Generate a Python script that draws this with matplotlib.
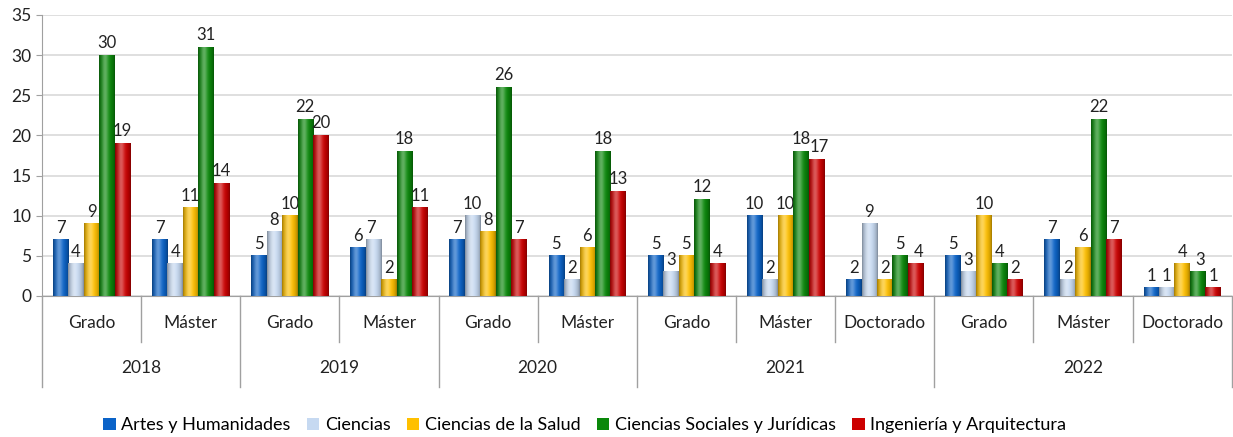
import matplotlib.pyplot as plt
import matplotlib.transforms as mtransforms
import numpy as np
from matplotlib.patches import Patch

plt.rcParams['font.family'] = ['Lato', 'DejaVu Sans']

# Datos
anios = ['2018', '2019', '2020', '2021', '2022']
niveles = ['Grado', 'Máster', 'Grado', 'Máster', 'Grado', 'Máster',
           'Grado', 'Máster', 'Doctorado', 'Grado', 'Máster', 'Doctorado']
grupos_por_anio = [2, 2, 2, 3, 3]

ramas = ['Artes y Humanidades', 'Ciencias', 'Ciencias de la Salud',
         'Ciencias Sociales y Jurídicas', 'Ingeniería y Arquitectura']
artes = [7, 7, 5, 6, 7, 5, 5, 10, 2, 5, 7, 1]
ciencias = [4, 4, 8, 7, 10, 2, 3, 2, 9, 3, 2, 1]
salud = [9, 11, 10, 2, 8, 6, 5, 10, 2, 10, 6, 4]
sociales = [30, 31, 22, 18, 26, 18, 12, 18, 5, 4, 22, 3]
ingenieria = [19, 14, 20, 11, 7, 13, 4, 17, 4, 2, 7, 1]
series = [artes, ciencias, salud, sociales, ingenieria]

colores = ['#0b63c8', '#c6d9f1', '#ffc000', '#0a880a', '#cc0000']

fig = plt.figure(figsize=(12.33, 4.37), dpi=100)
ax = fig.add_axes([0.034, 0.3227, 0.965, 0.643])

x = np.arange(len(niveles))
w = 0.156

def degradado(color):
    c = np.array(plt.matplotlib.colors.to_rgb(color))
    t = np.linspace(0, 1, 40)
    luz = np.exp(-((t - 0.38) / 0.22) ** 2)
    sombra = 0.62 + 0.38 * np.sin(np.pi * t) ** 0.6
    rgb = c[None, :] * sombra[:, None] + (1 - c[None, :]) * 0.35 * luz[:, None]
    return np.clip(rgb, 0, 1)[None, :, :]

for j, (vals, col) in enumerate(zip(series, colores)):
    pos = x + (j - 2) * w
    bars = ax.bar(pos, vals, w, color=col, zorder=2, linewidth=0)
    img = degradado(col)
    for i, (b, v) in enumerate(zip(bars, vals)):
        ax.imshow(img, extent=(b.get_x(), b.get_x() + w, 0, v), aspect='auto',
                  zorder=3, interpolation='bilinear')
        # separar etiquetas de barras vecinas casi iguales
        dx = 0
        if j > 0 and abs(series[j - 1][i] - v) <= 1 and v > series[j - 1][i]:
            dx = -2
        if j > 0 and abs(series[j - 1][i] - v) <= 1 and v < series[j - 1][i]:
            dx = 2
        ax.annotate(str(v), xy=(b.get_x() + w / 2, v), xytext=(dx, 3),
                    textcoords='offset points', ha='center', va='bottom',
                    fontsize=12, color='#222222')

ax.set_xlim(-0.5, len(niveles) - 0.5)
ax.set_ylim(0, 35)
ax.set_yticks(range(0, 36, 5))
ax.tick_params(axis='y', labelsize=12.5, colors='#222222', length=4, color='#a0a0a0')
ax.grid(axis='y', color='#d9d9d9', linewidth=1.2, zorder=0)
ax.set_axisbelow(True)
ax.set_xticks([])
for s in ['top', 'right']:
    ax.spines[s].set_visible(False)
ax.spines['left'].set_color('#a0a0a0')
ax.spines['bottom'].set_color('#a0a0a0')

# Eje de categorias en dos niveles
tr = mtransforms.blended_transform_factory(ax.transData, ax.transAxes)
for i, n in enumerate(niveles):
    ax.text(i, -0.096, n, transform=tr, ha='center', va='center', fontsize=12.5,
            color='#222222')
limites = np.cumsum([0] + grupos_por_anio) - 0.5
for i in range(len(niveles) + 1):
    xb = i - 0.5
    largo = -0.324 if np.any(np.isclose(limites, xb)) else -0.164
    ax.plot([xb, xb], [0, largo], transform=tr, color='#a0a0a0', lw=1,
            clip_on=False)
for k, a in enumerate(anios):
    centro = (limites[k] + limites[k + 1]) / 2
    ax.text(centro, -0.256, a, transform=tr, ha='center', va='center',
            fontsize=12.5, color='#222222')

handles = [Patch(facecolor=c, edgecolor='none') for c in colores]
fig.legend(handles, ramas, loc='center', bbox_to_anchor=(0.474, 0.027),
           ncol=5, frameon=False, fontsize=13, handlelength=0.7,
           handleheight=0.7, handletextpad=0.3, columnspacing=0.9)

fig.savefig('out.png', dpi=100)
